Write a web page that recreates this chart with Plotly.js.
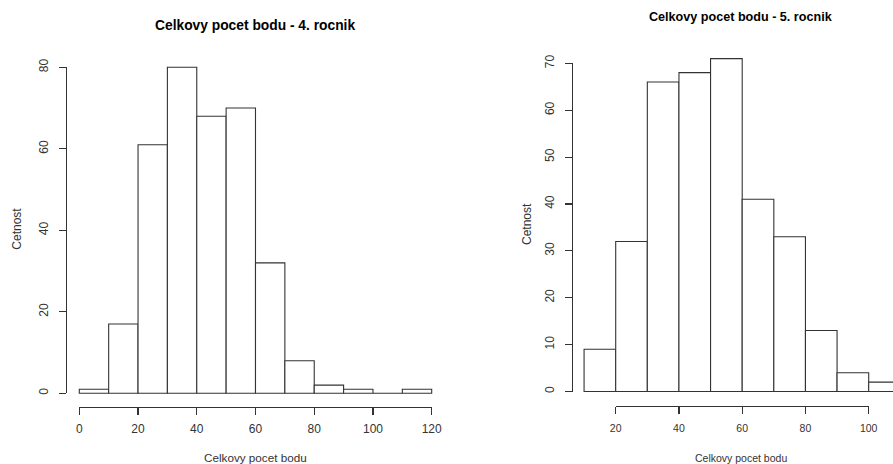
<!DOCTYPE html>
<html>
<head>
<meta charset="utf-8">
<script src="https://cdn.plot.ly/plotly-3.0.1.min.js"></script>
<style>html,body{margin:0;padding:0;background:#fff;}#chart{width:893px;height:464px;}</style>
</head>
<body>
<div id="chart"></div>
<script>
// ---- data ----
var binStarts4 = [0, 10, 20, 30, 40, 50, 60, 70, 80, 90, 100, 110];
var counts4    = [1, 17, 61, 80, 68, 70, 32, 8, 2, 1, 0, 1];
var binStarts5 = [10, 20, 30, 40, 50, 60, 70, 80, 90, 100];
var counts5    = [9, 32, 66, 68, 71, 41, 33, 13, 4, 2];
var binWidth = 10;
var xTicks4 = [0, 20, 40, 60, 80, 100, 120];
var yTicks4 = [0, 20, 40, 60, 80];
var xTicks5 = [20, 40, 60, 80, 100];
var yTicks5 = [0, 10, 20, 30, 40, 50, 60, 70];
var title4 = "Celkovy pocet bodu - 4. rocnik";
var title5 = "Celkovy pocet bodu - 5. rocnik";
var xLabel = "Celkovy pocet bodu";
var yLabel = "Cetnost";

// ---- layout helpers (pixel -> paper) ----
var W = 893, H = 464;
function fx(p) { return p / W; }
function fy(p) { return 1 - p / H; }
var LINE = '#333333';
var FONT = 'Liberation Sans, Arial, sans-serif';

// left panel geometry
var L = { x0: 79.3, x1: 431.7, xr: [0, 120], y0: 393.3, y1: 67.3, yr: [0, 80], axY: 406.7, axX: 65.7 };
var Lsx = (L.x1 - L.x0) / (L.xr[1] - L.xr[0]);
var Lsy = (L.y0 - L.y1) / (L.yr[1] - L.yr[0]);
// right panel geometry
var R = { x0: 615.7, x1: 868.7, xr: [20, 100], y0: 391.5, y1: 63.3, yr: [0, 70], axY: 405.7, axX: 571.7 };
var Rsx = (R.x1 - R.x0) / (R.xr[1] - R.xr[0]);
var Rsy = (R.y0 - R.y1) / (R.yr[1] - R.yr[0]);

var barStyle = { color: '#ffffff', line: { color: LINE, width: 1.1 } };

var traces = [
  { type: 'bar', x: binStarts4, y: counts4, width: binWidth, offset: 0,
    marker: barStyle, xaxis: 'x2', yaxis: 'y2', hoverinfo: 'x+y' },
  { type: 'scatter', x: [], y: [], xaxis: 'x', yaxis: 'y', hoverinfo: 'skip' },
  { type: 'bar', x: binStarts5, y: counts5, width: binWidth, offset: 0,
    marker: barStyle, xaxis: 'x4', yaxis: 'y4', hoverinfo: 'x+y' },
  { type: 'scatter', x: [], y: [], xaxis: 'x3', yaxis: 'y3', hoverinfo: 'skip' }
];

function visX(dom, rng, pos, ticks, fs, so) {
  return { domain: dom, range: rng, anchor: 'free', position: pos, showline: true, linecolor: LINE, linewidth: 1.1,
    ticks: 'outside', ticklen: 7, tickcolor: LINE, tickwidth: 1.1, tickmode: 'array', tickvals: ticks,
    ticklabelstandoff: so, showgrid: false, zeroline: false, tickfont: { family: FONT, size: fs, color: '#333' }, fixedrange: true };
}
function visY(dom, rng, pos, ticks, fs) {
  return { domain: dom, range: rng, anchor: 'free', position: pos, showline: true, linecolor: LINE, linewidth: 1.1,
    ticks: 'outside', ticklen: 7, tickcolor: LINE, tickwidth: 1.1, tickmode: 'array', tickvals: ticks, tickangle: -90,
    ticklabelstandoff: 6, showgrid: false, zeroline: false, tickfont: { family: FONT, size: fs, color: '#333' }, fixedrange: true };
}
function hidden(dom, rng, anchor) {
  return { domain: dom, range: rng, visible: false, anchor: anchor, fixedrange: true };
}

var layout = {
  width: W, height: H,
  margin: { l: 0, r: 0, t: 0, b: 0, pad: 0 },
  paper_bgcolor: '#ffffff', plot_bgcolor: 'rgba(0,0,0,0)',
  showlegend: false,
  xaxis: visX([fx(L.x0), fx(L.x1)], L.xr, fy(L.axY), xTicks4, 12, 4),
  yaxis: visY([fy(L.y0), fy(L.y1)], L.yr, fx(L.axX), yTicks4, 12),
  xaxis2: hidden([fx(L.x0 - 5 * Lsx), fx(L.x1 + 5 * Lsx)], [L.xr[0] - 5, L.xr[1] + 5], 'y2'),
  yaxis2: hidden([fy(L.y0 + 2 * Lsy), fy(L.y0 - 90 * Lsy)], [-2, 90], 'x2'),
  xaxis3: visX([fx(R.x0), fx(R.x1)], R.xr, fy(R.axY), xTicks5, 10.5, 6),
  yaxis3: visY([fy(R.y0), fy(R.y1)], R.yr, fx(R.axX), yTicks5, 12),
  xaxis4: hidden([fx(R.x0 - 15 * Rsx), 1], [5, 5 + (W - (R.x0 - 15 * Rsx)) / Rsx], 'y4'),
  yaxis4: hidden([fy(R.y0 + 2 * Rsy), fy(R.y0 - 80 * Rsy)], [-2, 80], 'x4'),
  annotations: [
    { text: '<b>' + title4 + '</b>', xref: 'paper', yref: 'paper', x: fx(254.7), y: fy(26), xanchor: 'center', yanchor: 'middle',
      showarrow: false, font: { family: FONT, size: 13.8, color: '#000' } },
    { text: '<b>' + title5 + '</b>', xref: 'paper', yref: 'paper', x: fx(741), y: fy(16.7), xanchor: 'center', yanchor: 'middle',
      showarrow: false, font: { family: FONT, size: 12.6, color: '#000' } },
    { text: xLabel, xref: 'paper', yref: 'paper', x: fx(255), y: fy(457.5), xanchor: 'center', yanchor: 'middle',
      showarrow: false, font: { family: FONT, size: 11.7, color: '#333' } },
    { text: xLabel, xref: 'paper', yref: 'paper', x: fx(741), y: fy(457.5), xanchor: 'center', yanchor: 'middle',
      showarrow: false, font: { family: FONT, size: 10.5, color: '#333' } },
    { text: yLabel, xref: 'paper', yref: 'paper', x: fx(16.7), y: fy(229), xanchor: 'center', yanchor: 'middle', textangle: -90,
      showarrow: false, font: { family: FONT, size: 12, color: '#333' } },
    { text: yLabel, xref: 'paper', yref: 'paper', x: fx(527), y: fy(224), xanchor: 'center', yanchor: 'middle', textangle: -90,
      showarrow: false, font: { family: FONT, size: 12, color: '#333' } }
  ]
};

Plotly.newPlot('chart', traces, layout, { displayModeBar: false, staticPlot: true });
</script>
</body>
</html>
